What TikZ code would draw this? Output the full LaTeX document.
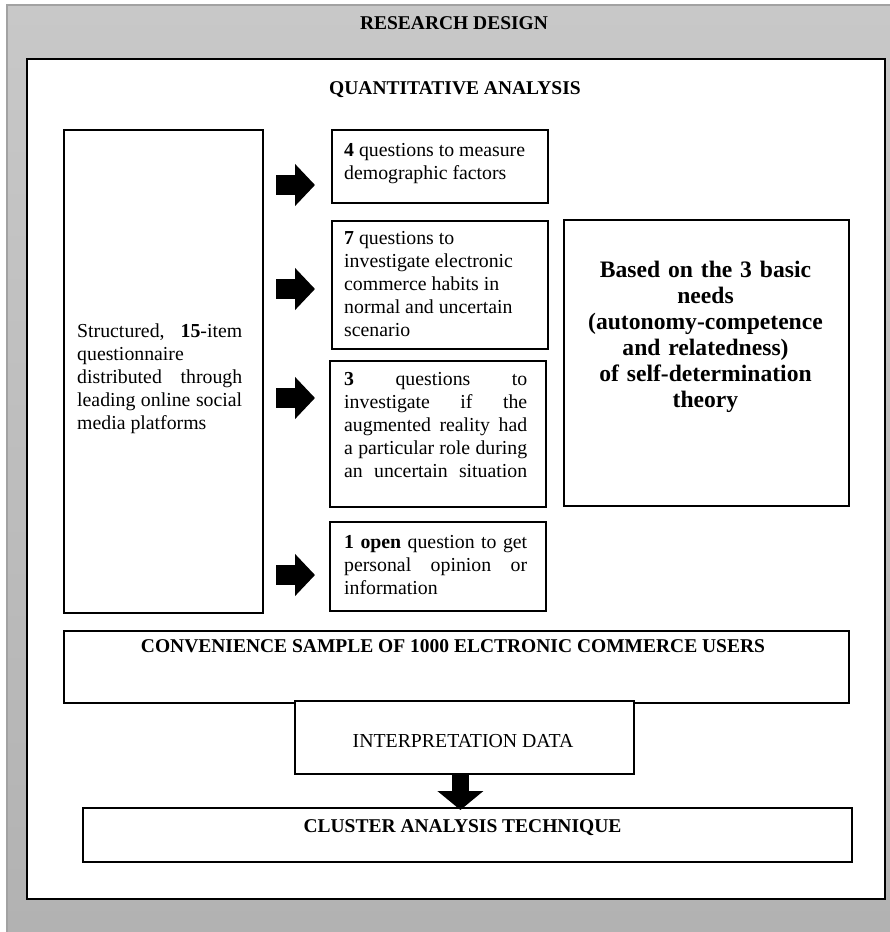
\documentclass[tikz,border=0pt]{standalone}
\usepackage{fontspec}
\setmainfont{Liberation Serif}
\usetikzlibrary{positioning}
\usetikzlibrary{arrows.meta}
\definecolor{panelgray}{HTML}{C8C8C8}
\definecolor{panelgraydark}{HTML}{B2B2B2}
\definecolor{edgegray}{HTML}{A2A2A2}
\tikzset{
	every node/.style = {inner sep=0pt, font=\fontsize{19.8}{23}\selectfont},
	box/.style = {draw=black, line width=1.8pt, fill=white, anchor=north west},
	boxtext/.style = {anchor=base west, text width=183pt, align=justify},
	heading/.style = {anchor=base, font=\fontsize{19.5}{23}\selectfont\bfseries},
	bigarrow/.style = {line width=20pt, -{Triangle[length=20pt, width=41pt]}},
	downarrow/.style = {line width=17pt, -{Triangle[length=19pt, width=45pt]}}
}

\begin{document}
\begin{tikzpicture}[x=1pt, y=-1pt]
		\useasboundingbox (0,0) rectangle (890,932);
		% backdrop
		\fill[white] (0,0) rectangle (890,932);
		\shade[top color=panelgray, bottom color=panelgraydark] (6,4) rectangle (890,932);
		\draw[edgegray, line width=2pt] (7,932) -- (7,5) -- (890,5);
		\node[heading] (title) at (454,29) {RESEARCH DESIGN};
		\node[box, line width=2pt, minimum width=858pt, minimum height=840pt] (frame) at (26,58) {};
		\node[heading] (quant) at (455,94) {QUANTITATIVE ANALYSIS};
		
		% questionnaire column
		\node[box, minimum width=199pt, minimum height=483pt] (survey) at (63,129) {};
		\node[boxtext, text width=165pt] (surveytxt) at (77,337)
			{Structured,\hfill\textbf{15}-item\\ questionnaire\\ distributed\hfill through\\ leading\hfill online\hfill social\\ media platforms};
		
		% question blocks
		\node[box, minimum width=216pt, minimum height=73pt] (demo) at (331,129) {};
		\node[boxtext] (demotxt) at (344,156) {\textbf{4} questions to measure\\ demographic factors};
		\node[box, minimum width=216pt, minimum height=128pt] (habits) at (331,220) {};
		\node[boxtext] (habitstxt) at (344,244)
			{\textbf{7} questions to\\ investigate electronic\\ commerce habits in\\ normal and uncertain\\ scenario};
		\node[box, minimum width=216pt, minimum height=146pt] (ar) at (329,360) {};
		\node[boxtext] (artxt) at (344,385)
			{\textbf{3}\hfill questions\hfill to\\ investigate\hfill if\hfill the\\ augmented\hfill reality\hfill had\\ a\hfill particular\hfill role\hfill during\\ an\hfill uncertain\hfill situation};
		\node[box, minimum width=216pt, minimum height=89pt] (open) at (329,521) {};
		\node[boxtext] (opentxt) at (344,548)
			{\textbf{1}\hfill\textbf{open}\hfill question\hfill to\hfill get\\ personal\hfill opinion\hfill or\\ information};
		
		\foreach \y in {185,289,398,575}
			\draw[bigarrow] (276,\y) -- (315,\y);
		
		% theory box
		\node[box, minimum width=285pt, minimum height=286pt] (sdt) at (563,219) {};
		\node[anchor=base, text width=270pt, align=center, font=\fontsize{23.6}{26}\selectfont\bfseries] (sdttxt) at (705.5,277)
			{Based on the 3 basic\\ needs\\ (autonomy-competence\\ and relatedness)\\ of self-determination\\ theory};
		
		% sample and analysis
		\node[box, minimum width=785pt, minimum height=72pt] (sample) at (63,630) {};
		\node[heading] (sampletxt) at (453,652) {CONVENIENCE SAMPLE OF 1000 ELCTRONIC COMMERCE USERS};
		\node[box, minimum width=339pt, minimum height=73pt] (interp) at (294,700) {};
		\node[heading, font=\fontsize{19.8}{23}\selectfont] (interptxt) at (463,747) {INTERPRETATION DATA};
		\node[box, minimum width=769pt, minimum height=54pt] (cluster) at (82,807) {};
		\node[heading] (clustertxt) at (462.5,832) {CLUSTER ANALYSIS TECHNIQUE};
		
		\draw[downarrow, shorten >=-3pt] ([xshift=-4pt]interp.south) -- ([xshift=-4pt]interp.south |- cluster.north);
	\end{tikzpicture}
\end{document}
